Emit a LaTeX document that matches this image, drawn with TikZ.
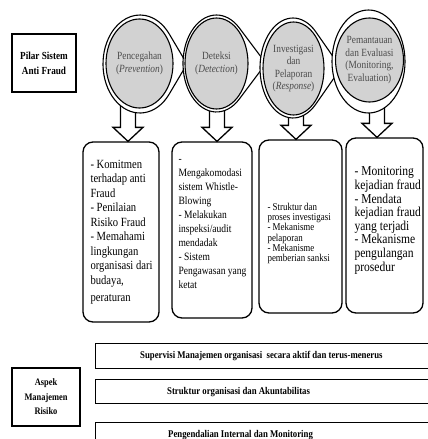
\documentclass[tikz,border=0pt]{standalone}
\usepackage{fontspec}
\setmainfont{Liberation Serif}[FakeStretch=0.85]
\usepackage{tikz}
\usetikzlibrary{positioning,shapes.geometric,calc,backgrounds}

% outer ring with a point: centre x, centre y, x radius, y radius, tangent angle, tip x
\newcommand{\tear}[6]{%
  \draw[ring] (#6,#2) -- ({#1+#3*cos(#5)},{#2+#4*sin(#5)})
    arc[start angle=#5, end angle=360-#5, x radius=#3, y radius=#4] -- cycle;}

\begin{document}
\begin{tikzpicture}[x=1pt,y=-1pt,
    ring/.style={draw,line width=1.1pt,fill=white},
    pilar/.style={ellipse,draw,line width=1.1pt,fill=gray!35,inner sep=0pt,
      align=center,text=black!70,font=\fontsize{11}{12.5}\selectfont},
    kotak/.style={draw,line width=1.3pt,rounded corners=10pt},
    isi/.style={align=left,inner sep=0pt,text=black},
    judul/.style={draw,line width=1.4pt,align=center},
    bar/.style={draw,line width=1.3pt,anchor=north west,minimum width=360},
    barteks/.style={inner sep=0pt,font=\bfseries\fontsize{10.3}{12}\selectfont},
    hollow/.style={draw,line width=1.3pt}]
  \useasboundingbox (0,0) rectangle (428,439);
  \clip (0,0) rectangle (428,439);

  % pilar sistem anti fraud
  \node[judul,minimum width=64,minimum height=58,
    font=\bfseries\fontsize{10.8}{15}\selectfont] (pilar) at (44,63) {Pilar Sistem\\Anti Fraud};

  \tear{140}{64}{37}{49}{38}{187}
  \tear{216.5}{63.5}{33.5}{48.5}{47.4}{266}
  \tear{293}{68}{33}{50}{46.6}{341}
  \draw[ring] (368.5,61.5) ellipse [x radius=36.5, y radius=51.5];

  \node[pilar,minimum width=67,minimum height=89] (e1) at (139.5,63.5)
    {Pencegahan\\(\textit{Prevention})};
  \node[pilar,minimum width=63,minimum height=91] (e2) at (216.5,63.5)
    {Deteksi\\(\textit{Detection})};
  \node[pilar,minimum width=61,minimum height=93] (e3) at (293.5,68.5)
    {Investigasi\\dan\\Pelaporan\\(\textit{Response})};
  \node[pilar,minimum width=63,minimum height=84] (e4) at (369.5,60)
    {Pemantauan\\dan Evaluasi\\(Monitoring,\\Evaluation)};

  % kotak isi
  \node[kotak,minimum width=76,minimum height=180] (b1) at (121,232) {};
  \node[kotak,minimum width=80,minimum height=176] (b2) at (212,230) {};
  \node[kotak,minimum width=83,minimum height=173] (b3) at (300.5,226.5) {};
  \node[kotak,minimum width=77,minimum height=175] (b4) at (384.5,225.5) {};

  \node[isi,right=8pt of b1.west,font=\fontsize{12.5}{14.5}\selectfont] (t1)
    {- Komitmen\\terhadap anti\\Fraud\\- Penilaian\\Risiko Fraud\\- Memahami\\lingkungan\\organisasi dari\\budaya,\\[3pt]peraturan};
  \node[isi,right=7pt of b2.west,yshift=6pt,font=\fontsize{11.2}{14}\selectfont] (t2)
    {-\\Mengakomodasi\\sistem Whistle-\\Blowing\\- Melakukan\\inspeksi/audit\\mendadak\\- Sistem\\Pengawasan yang\\ketat};
  \node[isi,right=9pt of b3.west,yshift=-7pt,font=\fontsize{10.5}{10.2}\selectfont] (t3)
    {- Struktur dan\\proses investigasi\\- Mekanisme\\pelaporan\\- Mekanisme\\pemberian sanksi};
  \node[isi,right=9pt of b4.west,yshift=5pt,font=\fontsize{13.6}{13.6}\selectfont] (t4)
    {- Monitoring\\kejadian fraud\\- Mendata\\kejadian fraud\\yang terjadi\\- Mekanisme\\pengulangan\\prosedur};

  \begin{pgfonlayer}{background}
    \foreach \e/\b/\ax in {e1/b1/128,e2/b2/217,e3/b3/296,e4/b4/377}
      \draw[hollow] let \p1=(\e.center), \p2=(\b.north) in
        (\ax pt-7.5pt,\y1) -- (\ax pt-7.5pt,\y2+14pt) -- (\ax pt-15pt,\y2+14pt)
        -- (\ax pt,\y2) -- (\ax pt+15pt,\y2+14pt) -- (\ax pt+7.5pt,\y2+14pt)
        -- (\ax pt+7.5pt,\y1);
  \end{pgfonlayer}

  % aspek manajemen risiko
  \node[judul,minimum width=68,minimum height=58,
    font=\bfseries\fontsize{9.9}{14.5}\selectfont] (aspek) at (46,397) {Aspek\\Manajemen\\Risiko};

  \node[bar,minimum height=25] (m1) at (95,343) {};
  \node[bar,minimum height=24] (m2) at (95,379) {};
  \node[bar,minimum height=24] (m3) at (95,422) {};
  \node[barteks,right=45pt of m1.west] (s1) {Supervisi Manajemen organisasi\ \ secara aktif dan terus-menerus};
  \node[barteks,right=72pt of m2.west] (s2) {Struktur organisasi dan Akuntabilitas};
  \node[barteks,right=73pt of m3.west] (s3) {Pengendalian Internal dan Monitoring};
\end{tikzpicture}
\end{document}
